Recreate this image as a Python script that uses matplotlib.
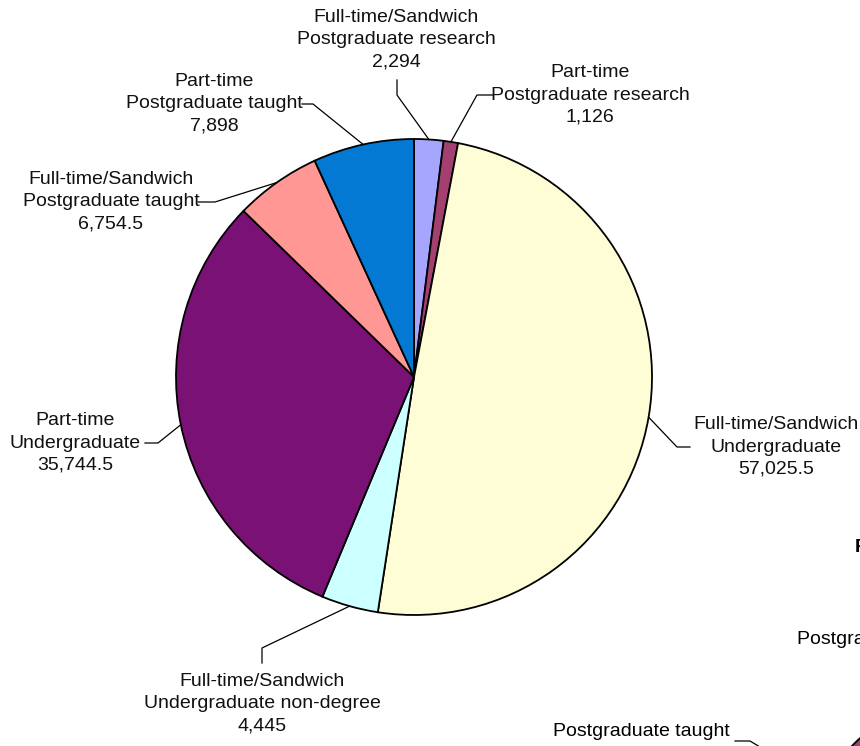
import numpy as np
import matplotlib
matplotlib.use("Agg")
import matplotlib.pyplot as plt
from matplotlib.patches import Wedge

plt.rcParams['font.family'] = ['Liberation Sans', 'DejaVu Sans']

# data, clockwise from 12 o'clock
labels = ["Full-time/Sandwich\nPostgraduate research",
          "Part-time\nPostgraduate research",
          "Full-time/Sandwich\nUndergraduate",
          "Full-time/Sandwich\nUndergraduate non-degree",
          "Part-time\nUndergraduate",
          "Full-time/Sandwich\nPostgraduate taught",
          "Part-time\nPostgraduate taught"]
values = [2294, 1126, 57025.5, 4445, 35744.5, 6754.5, 7898]
colors = ["#A6A6FF", "#A3406F", "#FFFDD6", "#CCFFFF", "#7A1174", "#FF9794", "#0479D4"]

W, H = 860, 746
fig = plt.figure(figsize=(W / 100, H / 100), dpi=100)
ax = fig.add_axes([0, 0, 1, 1])

cx, cy, r = 414, H - 377, 238
wedges, _ = ax.pie(values, colors=colors, startangle=90, counterclock=False,
                   center=(cx, cy), radius=r, frame=True,
                   wedgeprops=dict(edgecolor="black", linewidth=1.3))
ax.set_xlim(0, W)
ax.set_ylim(0, H)
ax.axis("off")

# label centre (px, from top), elbow point, and end point next to label
lab_pos = [(396, 40), (590, 95), (776, 447), (262, 704), (75, 443), (111, 202), (214, 104)]
elbows = [(397, 95), (477, 95), (677, 447), (262, 648), (158, 443), (215, 202), (313, 104)]
ends = [(397, 80), (493, 95), (690, 447), (262, 663), (145, 443), (198, 202), (302, 104)]

total = sum(values)
acc = 0
for i, v in enumerate(values):
    mid = (acc + v / 2) / total * 2 * np.pi
    acc += v
    px = cx + r * np.sin(mid)
    py = cy + r * np.cos(mid)
    txt = f"{v:,.1f}" if v % 1 else f"{v:,.0f}"
    lx, ly = lab_pos[i]
    ax.text(lx, H - ly, labels[i] + "\n" + txt, ha="center", va="center",
            fontsize=14, linespacing=1.4, color="#111111")
    ex, ey = elbows[i]
    tx, ty = ends[i]
    ax.plot([px, ex, tx], [py, H - ey, H - ty], color="black", lw=0.9)

# pieces of a neighbouring chart cut off at the edge
ax.text(855, H - 548, "P", fontsize=14, fontweight="bold", va="center", ha="left")
ax.text(797, H - 640, "Postgraduate research", fontsize=14, va="center", ha="left")
ax.text(730, H - 731, "Postgraduate taught", fontsize=14, va="center", ha="right")
ax.plot([735, 750, 765], [H - 741, H - 741, H - 750], color="black", lw=0.9, clip_on=False)
ax.add_patch(Wedge((960, H - 850), 150, 100, 170, facecolor="#A3406F", edgecolor="black", lw=1.3))

fig.savefig("out.png", dpi=100)
